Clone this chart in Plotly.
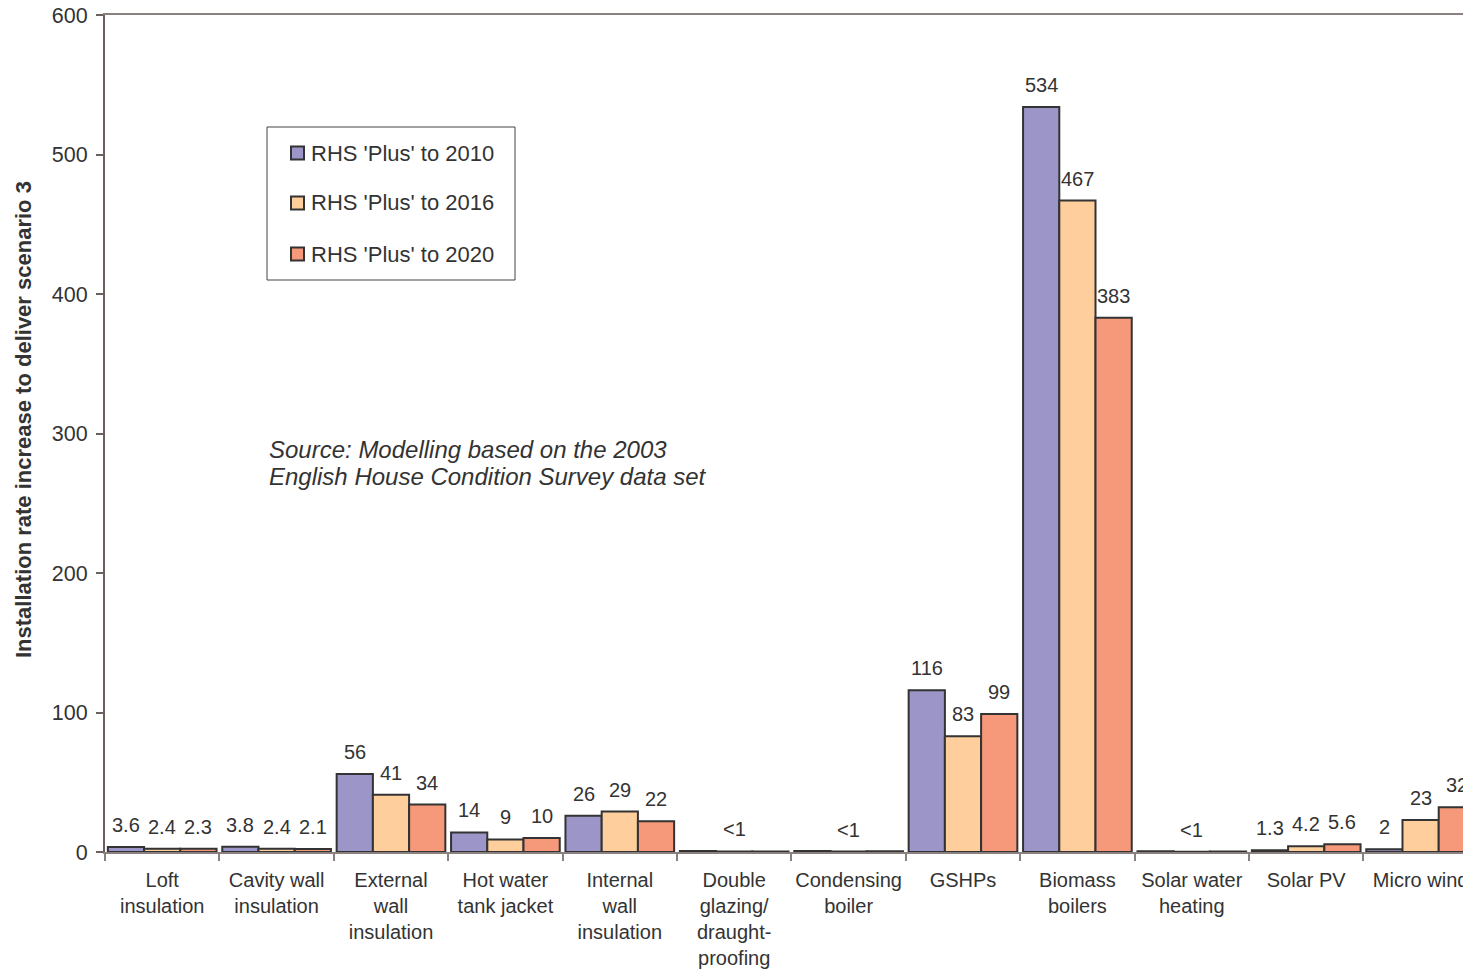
import plotly.graph_objects as go

# Measures (category axis) and the three RHS 'Plus' timelines
categories = [
    "Loft<br>insulation",
    "Cavity wall<br>insulation",
    "External<br>wall<br>insulation",
    "Hot water<br>tank jacket",
    "Internal<br>wall<br>insulation",
    "Double<br>glazing/<br>draught-<br>proofing",
    "Condensing<br>boiler",
    "GSHPs",
    "Biomass<br>boilers",
    "Solar water<br>heating",
    "Solar PV",
    "Micro wind",
]
series_names = ["RHS 'Plus' to 2010", "RHS 'Plus' to 2016", "RHS 'Plus' to 2020"]
rate_2010 = [3.6, 3.8, 56, 14, 26, 0.8, 0.8, 116, 534, 0.5, 1.3, 2]
rate_2016 = [2.4, 2.4, 41, 9, 29, 0.4, 0.3, 83, 467, 0.1, 4.2, 23]
rate_2020 = [2.3, 2.1, 34, 10, 22, 0.4, 0.6, 99, 383, 0.4, 5.6, 32]
labels_2010 = ["3.6", "3.8", "56", "14", "26", "", "", "116", "534", "", "1.3", "2"]
labels_2016 = ["2.4", "2.4", "41", "9", "29", "<1", "<1", "83", "467", "<1", "4.2", "23"]
labels_2020 = ["2.3", "2.1", "34", "10", "22", "", "", "99", "383", "", "5.6", "32"]
y_ticks = [0, 100, 200, 300, 400, 500, 600]

colors = ["#9c95c8", "#fecf9c", "#f5997a"]
FONT = "Liberation Sans, Arial, sans-serif"
TEXT = "#333333"
EDGE = "#333333"
BARGAP = 0.05

# plot-area geometry in pixels (figure is 1463 x 969)
W, H = 1463, 969
L, R, T, B = 105, 0, 15, 117
PW, PH = W - L - R, H - T - B
CAT_PX = 114.4  # width of one category slot


def px_x(p):
    return (p - L) / PW


def px_y(p):
    return (H - B - p) / PH


series = [rate_2010, rate_2016, rate_2020]
labels = [labels_2010, labels_2016, labels_2020]

fig = go.Figure()
for k, (name, vals) in enumerate(zip(series_names, series)):
    fig.add_trace(go.Bar(
        x=categories, y=vals, name=name,
        marker=dict(color=colors[k], line=dict(color=EDGE, width=2)),
    ))

# value labels above each bar
bw = (1 - BARGAP) / 3
for k, (vals, labs) in enumerate(zip(series, labels)):
    for i, (v, t) in enumerate(zip(vals, labs)):
        if not t:
            continue
        fig.add_annotation(
            x=i + (k - 1) * bw, y=v, xref="x", yref="y", text=t,
            showarrow=False, yanchor="middle", xanchor="center", yshift=22,
            font=dict(family=FONT, size=20, color=TEXT),
        )

# source note
for line, yp in [("Source: Modelling based on the 2003", 449),
                 ("English House Condition Survey data set", 476)]:
    fig.add_annotation(
        x=px_x(267), y=px_y(yp), xref="paper", yref="paper",
        xanchor="left", yanchor="middle", align="left", showarrow=False,
        text=f"<i>{line}</i>", font=dict(family=FONT, size=24, color=TEXT),
    )

# y-axis title
fig.add_annotation(
    x=px_x(23), y=px_y(420), xref="paper", yref="paper",
    xanchor="center", yanchor="middle", textangle=-90, showarrow=False,
    text="<b>Installation rate increase to deliver scenario 3</b>",
    font=dict(family=FONT, size=22, color=TEXT),
)

# legend box with swatches
shapes = [dict(type="rect", xref="paper", yref="paper",
               x0=px_x(267), x1=px_x(515), y0=px_y(280), y1=px_y(127),
               line=dict(color="#444444", width=1), fillcolor="white", layer="above")]
for k, (name, yc) in enumerate(zip(series_names, [153, 203, 254])):
    shapes.append(dict(type="rect", xref="paper", yref="paper",
                       x0=px_x(291), x1=px_x(304), y0=px_y(yc + 6.5), y1=px_y(yc - 6.5),
                       line=dict(color=EDGE, width=2), fillcolor=colors[k], layer="above"))
    fig.add_annotation(
        x=px_x(309), y=px_y(yc), xref="paper", yref="paper",
        xanchor="left", yanchor="middle", showarrow=False, text=name,
        font=dict(family=FONT, size=22, color=TEXT),
    )

fig.update_layout(
    width=W, height=H,
    margin=dict(l=L, r=R, t=T, b=B, autoexpand=False),
    paper_bgcolor="white", plot_bgcolor="white",
    barmode="group", bargap=BARGAP, bargroupgap=0,
    font=dict(family=FONT, size=20, color=TEXT),
    showlegend=False,
    shapes=shapes,
    xaxis=dict(
        type="category", categoryorder="array", categoryarray=categories,
        range=[-0.5, -0.5 + PW / CAT_PX], automargin=False,
        tickson="boundaries", ticklabeloverflow="allow",
        showline=True, linecolor="#8a8080", linewidth=1.5, mirror=True,
        ticks="outside", ticklen=7, tickcolor="#8a8080", tickwidth=1.5,
        showgrid=False, zeroline=False, tickangle=0,
        tickfont=dict(family=FONT, size=20, color=TEXT),
        ticklabelstandoff=9,
    ),
    yaxis=dict(
        range=[0, 600], tickvals=y_ticks, automargin=False,
        showline=True, linecolor="#6a6060", linewidth=2,
        ticks="outside", ticklen=7, tickcolor="#6a6060", tickwidth=1.5,
        showgrid=False, zeroline=False,
        tickfont=dict(family=FONT, size=21.5, color=TEXT),
        ticklabelstandoff=4,
    ),
)

fig.write_html("out.html")
